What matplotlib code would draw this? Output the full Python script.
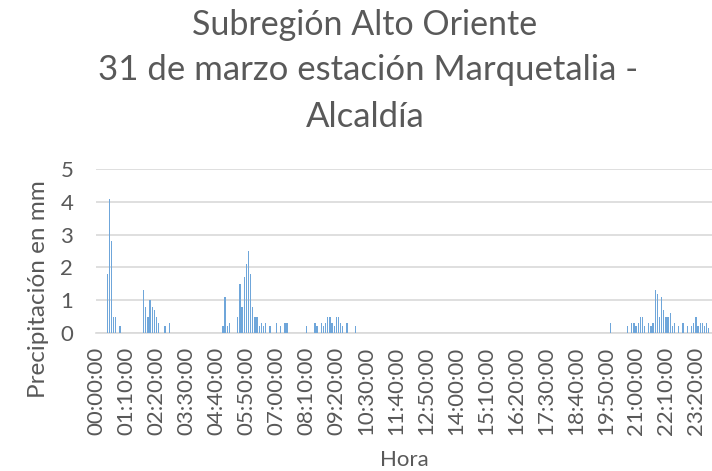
import matplotlib.pyplot as plt
import numpy as np
import pandas as pd

# lluvia registrada cada 5 minutos (solo intervalos con lluvia)
rain_times = ["00:25", "00:30", "00:35", "00:40", "00:45", "00:55",
              "01:50", "01:55", "02:00", "02:05", "02:10", "02:15", "02:20", "02:25", "02:40", "02:50",
              "04:55", "05:00", "05:05", "05:10",
              "05:30", "05:35", "05:40", "05:45", "05:50", "05:55", "06:00", "06:05", "06:10", "06:15",
              "06:20", "06:25", "06:30", "06:35", "06:45",
              "07:00", "07:10", "07:20", "07:25",
              "08:10", "08:30", "08:35", "08:45", "08:50", "08:55", "09:00", "09:05", "09:10", "09:15",
              "09:20", "09:25", "09:30", "09:35", "09:45", "10:05",
              "20:00", "20:40", "20:50", "20:55", "21:00", "21:05", "21:10", "21:15", "21:20", "21:30",
              "21:35", "21:40", "21:45", "21:50", "21:55", "22:00", "22:05", "22:10", "22:15", "22:20",
              "22:25", "22:30", "22:40", "22:50", "23:00", "23:10", "23:15", "23:20", "23:25", "23:30",
              "23:35", "23:40", "23:45", "23:50"]
rain_mm = [1.8, 4.1, 2.8, 0.5, 0.5, 0.2,
           1.3, 0.8, 0.5, 1.0, 0.8, 0.7, 0.5, 0.3, 0.2, 0.3,
           0.2, 1.1, 0.2, 0.3,
           0.5, 1.5, 0.8, 1.7, 2.1, 2.5, 1.8, 0.8, 0.5, 0.5,
           0.2, 0.3, 0.2, 0.3, 0.2,
           0.3, 0.2, 0.3, 0.3,
           0.2, 0.3, 0.2, 0.3, 0.2, 0.3, 0.5, 0.5, 0.3, 0.2,
           0.5, 0.5, 0.3, 0.2, 0.3, 0.2,
           0.3, 0.2, 0.3, 0.3, 0.2, 0.3, 0.5, 0.5, 0.2, 0.3,
           0.2, 0.3, 1.3, 1.2, 0.5, 1.1, 0.7, 0.5, 0.5, 0.6,
           0.2, 0.3, 0.2, 0.3, 0.2, 0.2, 0.3, 0.5, 0.2, 0.3,
           0.3, 0.2, 0.3, 0.15]

horas = pd.date_range("2000-01-01 00:00", periods=288, freq="5min").strftime("%H:%M")
serie = pd.Series(rain_mm, index=rain_times).reindex(horas, fill_value=0.0)
etiquetas = [h + ":00" for h in horas]

gris = '#595959'
plt.rcParams['font.family'] = ['Lato', 'DejaVu Sans']

fig = plt.figure(figsize=(7.12, 4.71), dpi=100)
ax = fig.add_axes([95.5/712, 138/471, 616.5/712, 164/471])

x = np.arange(len(serie))
ax.bar(x, serie.values, width=0.6, color='#6FA6DA', zorder=3)

ax.set_xlim(-0.5, len(serie) - 0.5)
ax.set_ylim(0, 5)
ax.set_yticks(range(0, 6))
ax.yaxis.grid(True, color='#D9D9D9', lw=1.2, zorder=0)
ax.set_xticks(x[::14])
ax.set_xticklabels(etiquetas[::14], rotation=90)
ax.tick_params(axis='both', length=0, labelsize=16, colors=gris)
ax.tick_params(axis='y', pad=16)
ax.tick_params(axis='x', pad=10)
for s in ['top', 'right', 'left']:
    ax.spines[s].set_visible(False)
ax.spines['bottom'].set_color('#D9D9D9')
ax.spines['bottom'].set_linewidth(1.2)

fig.text(404/712, 1 - 460/471, 'Hora', ha='center', va='center', fontsize=16, color=gris)
fig.text(38.5/712, 1 - 289/471, 'Precipitación en mm', ha='center', va='center',
         rotation=90, fontsize=17.5, color=gris)

fig.text(365/712, 1 - 35/471, 'Subregión Alto Oriente', ha='center', va='baseline', fontsize=24.5, color=gris)
fig.text(368/712, 1 - 80/471, '31 de marzo estación Marquetalia -', ha='center', va='baseline', fontsize=25, color=gris)
fig.text(365/712, 1 - 127/471, 'Alcaldía', ha='center', va='baseline', fontsize=25, color=gris)

fig.savefig('out.png', dpi=100)
